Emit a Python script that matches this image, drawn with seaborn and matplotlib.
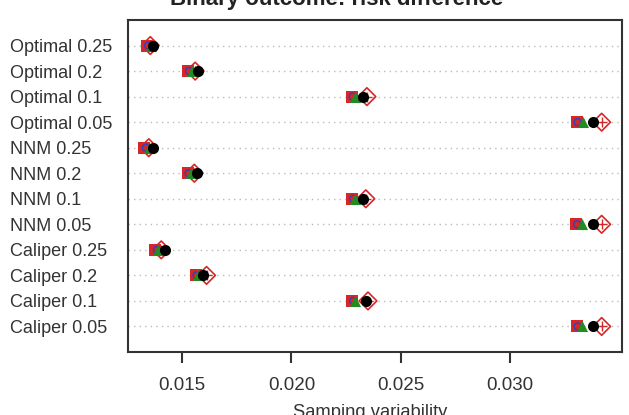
import pandas as pd
import matplotlib.pyplot as plt
import seaborn as sns

# Dados
labels = ['Optimal 0.25', 'Optimal 0.2', 'Optimal 0.1', 'Optimal 0.05',
          'NNM 0.25', 'NNM 0.2', 'NNM 0.1', 'NNM 0.05',
          'Caliper 0.25', 'Caliper 0.2', 'Caliper 0.1', 'Caliper 0.05']

serie_quadrado = [0.01338, 0.01527, 0.02276, 0.03304,
                  0.01328, 0.01525, 0.02278, 0.03302,
                  0.01378, 0.01562, 0.02278, 0.03306]
serie_circulo_azul = [0.01345, 0.01532, 0.02280, 0.03308,
                      0.01335, 0.01530, 0.02282, 0.03306,
                      0.01385, 0.01566, 0.02282, 0.03308]
serie_triangulo = [0.01356, 0.01545, 0.02292, 0.03331,
                   0.01350, 0.01542, 0.02290, 0.03330,
                   0.01392, 0.01575, 0.02290, 0.03326]
serie_preta = [0.01368, 0.01573, 0.02326, 0.03377,
               0.01368, 0.01568, 0.02326, 0.03377,
               0.01420, 0.01596, 0.02343, 0.03377]
serie_losango = [0.01355, 0.01560, 0.02345, 0.03418,
                 0.01348, 0.01556, 0.02340, 0.03418,
                 0.01405, 0.01612, 0.02350, 0.03418]

sns.set_style('white')
plt.rcParams['font.family'] = ['Liberation Sans', 'DejaVu Sans']

fig = plt.figure(figsize=(6.29, 4.15), dpi=100)
ax = fig.add_axes([128 / 629, 1 - 352 / 415, (622 - 128) / 629, (352 - 20) / 415])

# linhas pontilhadas de cada categoria
for i in range(len(labels)):
    ax.axhline(i, color='#bbbbbb', linestyle=(0, (1, 3)), linewidth=1, zorder=0)

def pontos(valores, **kw):
    df = pd.DataFrame({'x': valores, 'y': labels})
    sns.stripplot(data=df, x='x', y='y', order=labels, jitter=False, ax=ax, **kw)

pontos(serie_losango, marker='D', s=9, color='none', edgecolor='#d62728', linewidth=1.2, zorder=3)
pontos(serie_losango, marker='+', s=7, color='#d62728', linewidth=1.0, zorder=3)
pontos(serie_quadrado, marker='s', s=8, color='#d62728', linewidth=0, zorder=4)
pontos(serie_circulo_azul, marker='o', s=5, color='none', edgecolor='#3040c0', linewidth=1.0, zorder=5)
pontos(serie_triangulo, marker='^', s=8, color='#228b22', linewidth=0, zorder=6)
pontos(serie_preta, marker='o', s=8, color='black', linewidth=0, zorder=7)

ax.set_xlim(0.01253, 0.03511)
ax.set_ylim(len(labels), -1)
ax.set_xticks([0.015, 0.020, 0.025, 0.030])
ax.set_xticklabels(['0.015', '0.020', '0.025', '0.030'], fontsize=13.5, color='#333333')
ax.set_yticks(range(len(labels)))
ax.set_yticklabels(labels, fontsize=13, color='#333333')
ax.tick_params(axis='x', length=8, width=1.5, color='#333333', direction='out', bottom=True, pad=10)
ax.tick_params(axis='y', length=0, pad=(128 - 10) * 0.72)
for lab in ax.get_yticklabels():
    lab.set_horizontalalignment('left')
ax.set_xlabel('')
ax.set_ylabel('')
for sp in ax.spines.values():
    sp.set_visible(True)
    sp.set_color('#333333')
    sp.set_linewidth(1.5)

fig.text(337 / 629, 1 - 5 / 415, 'Binary outcome: risk difference', ha='center', va='baseline',
         fontsize=16, fontweight='bold', color='#222222')
fig.text(370 / 629, 1 - 404 / 415, 'Samping variability', ha='center', va='top',
         fontsize=13.2, color='#333333')

fig.savefig('out.png', dpi=100)
